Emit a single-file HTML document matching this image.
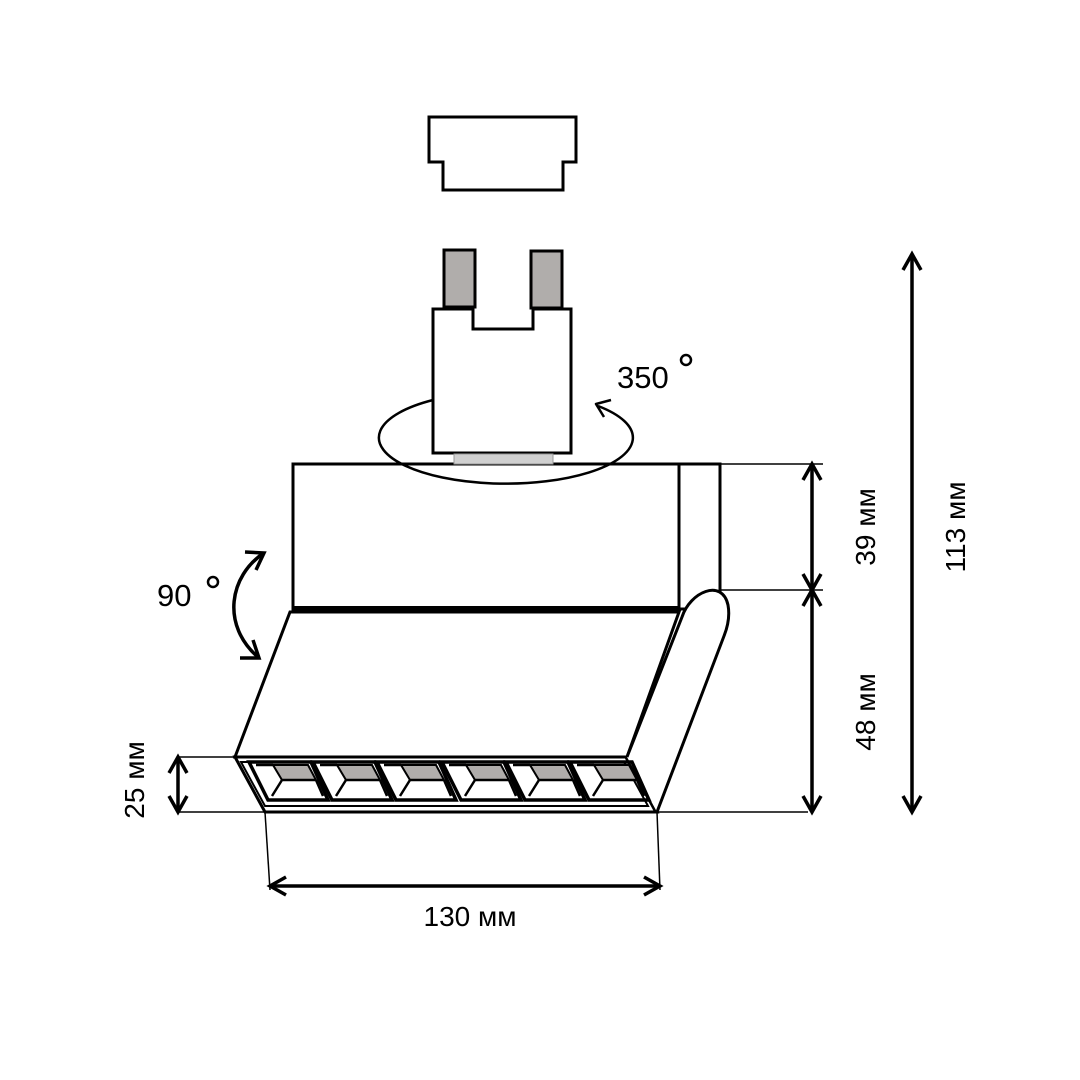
<!DOCTYPE html>
<html><head><meta charset="utf-8"><style>
html,body{margin:0;padding:0;background:#fff}
svg{display:block}
text{font-family:"Liberation Sans",sans-serif;fill:#000}
</style></head><body>
<svg width="1080" height="1080" viewBox="0 0 1080 1080" xmlns="http://www.w3.org/2000/svg">
<rect width="1080" height="1080" fill="#fff"/>
<g fill="none" stroke="#000" stroke-width="3" stroke-linejoin="miter">
<path d="M429,117 H576 V162 H563 V190 H443 V162 H429 Z" fill="#fff"/>
<rect x="293" y="464" width="427" height="145" fill="#fff"/>
<line x1="679" y1="464" x2="679" y2="609"/>
<line x1="293" y1="609" x2="679" y2="609" stroke-width="6"/>
<path d="M598,406 A127,46 0 1 1 433,400" stroke-width="2.5"/>
<path d="M611,400 L596,404 L604,417" stroke-width="2.5" stroke-linejoin="round"/>
<path d="M433,309 H473 V329 H533 V309 H571 V453 H433 Z" fill="#fff"/>
<rect x="444" y="250" width="31" height="57" fill="#b0adab"/>
<rect x="531" y="251" width="31" height="57" fill="#b0adab"/>
<rect x="454" y="454" width="99" height="10" fill="#d0d0d0" stroke="#999" stroke-width="1"/>
<path d="M290,612 L679,612 L627,757 L235,757 Z" fill="#fff"/>
<path d="M235,757 L627,757 L657,812 L265,812 Z" fill="#fff"/>
<line x1="627" y1="757" x2="657" y2="812" stroke-width="5"/>
<path d="M627,757 L682,617 C690,592 722,578 728,605 C730,616 728,626 724,636 L657,812" fill="#fff"/>
<line x1="720" y1="464" x2="720" y2="588"/>
</g>
<g stroke="#000" stroke-width="3" fill="none">
<path d="M241,762 L624,762 L648,806 L265,806 Z" stroke-width="2"/>
<g id="c">
<path d="M249,762 L311,762 L328,800 L268,800 Z" stroke-width="3.5"/>
<path d="M273,765 L308,765 L316,780 L282,780 Z" fill="#b0adab" stroke-width="2"/>
<path d="M256,765 L273,765 M282,780 L316,780 M282,780 L272,796 M316,780 L323,796" stroke-width="2.5"/>
</g>
<use href="#c" transform="translate(64,0)"/>
<use href="#c" transform="translate(128,0)"/>
<use href="#c" transform="translate(193,0)"/>
<use href="#c" transform="translate(257,0)"/>
<use href="#c" transform="translate(321,0)"/>
</g>
<g stroke="#000" stroke-width="1.5" fill="none">
<line x1="720" y1="464" x2="823" y2="464"/>
<line x1="720" y1="590" x2="823" y2="590"/>
<line x1="657" y1="812" x2="808" y2="812"/>
<line x1="178" y1="757" x2="235" y2="757"/>
<line x1="178" y1="812" x2="265" y2="812"/>
<line x1="265" y1="812" x2="270" y2="890"/>
<line x1="657" y1="812" x2="660" y2="890"/>
</g>
<g stroke="#000" stroke-width="3.5" fill="none">
<line x1="912" y1="254" x2="912" y2="812"/>
<path d="M903,270 L912,254 L921,270 M903,796 L912,812 L921,796"/>
<line x1="812" y1="464" x2="812" y2="812"/>
<path d="M803,480 L812,464 L821,480 M803,574 L812,590 L821,574 M803,606 L812,590 L821,606 M803,796 L812,812 L821,796"/>
<line x1="178" y1="757" x2="178" y2="812"/>
<path d="M169,773 L178,757 L187,773 M169,796 L178,812 L187,796"/>
<line x1="270" y1="886" x2="660" y2="886"/>
<path d="M286,877 L270,886 L286,895 M644,877 L660,886 L644,895"/>
<path d="M264,553 C230,575 220,625 259,658"/>
<path d="M245,552 L264,553 L256,570 M240,658 L259,658 L253,640"/>
</g>
<g font-size="28">
<text x="470" y="926" text-anchor="middle">130 мм</text>
<text transform="translate(144,780) rotate(-90)" text-anchor="middle">25 мм</text>
<text transform="translate(875,527) rotate(-90)" text-anchor="middle">39 мм</text>
<text transform="translate(875,712) rotate(-90)" text-anchor="middle">48 мм</text>
<text transform="translate(965,527) rotate(-90)" text-anchor="middle">113 мм</text>
<text x="617" y="388" font-size="31">350</text>
<text x="157" y="606" font-size="31">90</text>
</g>
<circle cx="686" cy="360" r="5" fill="none" stroke="#000" stroke-width="2.5"/>
<circle cx="213" cy="582" r="5" fill="none" stroke="#000" stroke-width="2.5"/>
</svg>
</body></html>
